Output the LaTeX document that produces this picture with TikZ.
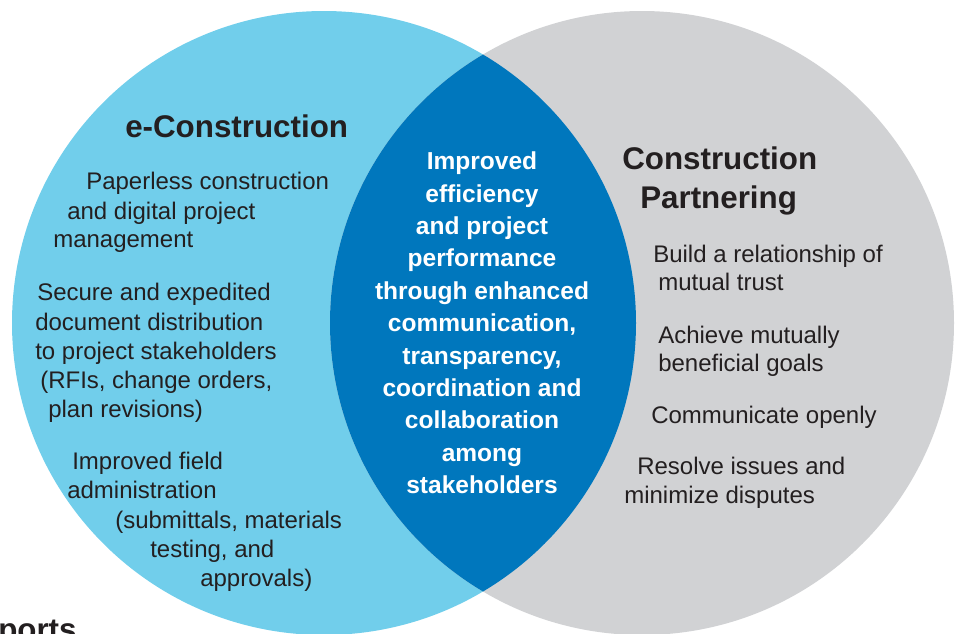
\documentclass[tikz,border=0pt]{standalone}
\usepackage{fontspec}
\setmainfont{Liberation Sans}
\definecolor{ecblue}{HTML}{71CEEB}
\definecolor{cpgray}{HTML}{D1D2D4}
\definecolor{midblue}{HTML}{0077BD}
\definecolor{txt}{HTML}{231F20}
\begin{document}
\begin{tikzpicture}[x=0.75pt,y=-0.75pt,
  body/.style={anchor=base west, inner sep=0pt, text=txt, font=\fontsize{18}{22.5}\selectfont},
  head/.style={anchor=base west, inner sep=0pt, text=txt, font=\fontsize{23.5}{28}\selectfont\bfseries},
  mid/.style={inner sep=0pt, text=white, align=center, font=\fontsize{18.4}{24.3}\selectfont\bfseries}]
\useasboundingbox (0,0) rectangle (961,633);
\coordinate (cl) at (324,323);
\coordinate (cr) at (642,323);
\fill[ecblue] (cl) circle[radius=312];
\fill[cpgray] (cr) circle[radius=312];
\begin{scope}
  \clip (cl) circle[radius=312];
  \fill[midblue] (cr) circle[radius=312];
\end{scope}
% left
\node[head] (lt) at (125,137) {e-Construction};
\node[body] (l1) at (86,189) {Paperless construction};
\node[body] (l2) at (67,219) {and digital project};
\node[body] (l3) at (53,247) {management};
\node[body] (l4) at (37,300) {Secure and expedited};
\node[body] (l5) at (35,330) {document distribution};
\node[body] (l6) at (35,359) {to project stakeholders};
\node[body] (l7) at (40,388) {(RFIs, change orders,};
\node[body] (l8) at (48,417) {plan revisions)};
\node[body] (l9) at (72,469) {Improved field};
\node[body] (l10) at (67,498) {administration};
\node[body] (l11) at (115,528) {(submittals, materials};
\node[body] (l12) at (150,557) {testing, and};
\node[body] (l13) at (200,586) {approvals)};
% centre
\node[mid] (c) at (482,323) {Improved\\efficiency\\and project\\performance\\through enhanced\\communication,\\transparency,\\coordination and\\collaboration\\among\\stakeholders};
% right
\node[head] (rt1) at (622,169) {Construction};
\node[head] (rt2) at (640,208) {Partnering};
\node[body] (r1) at (653,262) {Build a relationship of};
\node[body] (r2) at (658,290) {mutual trust};
\node[body] (r3) at (658,343) {Achieve mutually};
\node[body] (r4) at (658,371) {beneficial goals};
\node[body] (r5) at (651,423) {Communicate openly};
\node[body] (r6) at (637,474) {Resolve issues and};
\node[body] (r7) at (624,503) {minimize disputes};
% cropped fragment (cut by the lower edge, as in the reference)
\node[head] (frag) at (-2,640) {ports};
\end{tikzpicture}
\end{document}
